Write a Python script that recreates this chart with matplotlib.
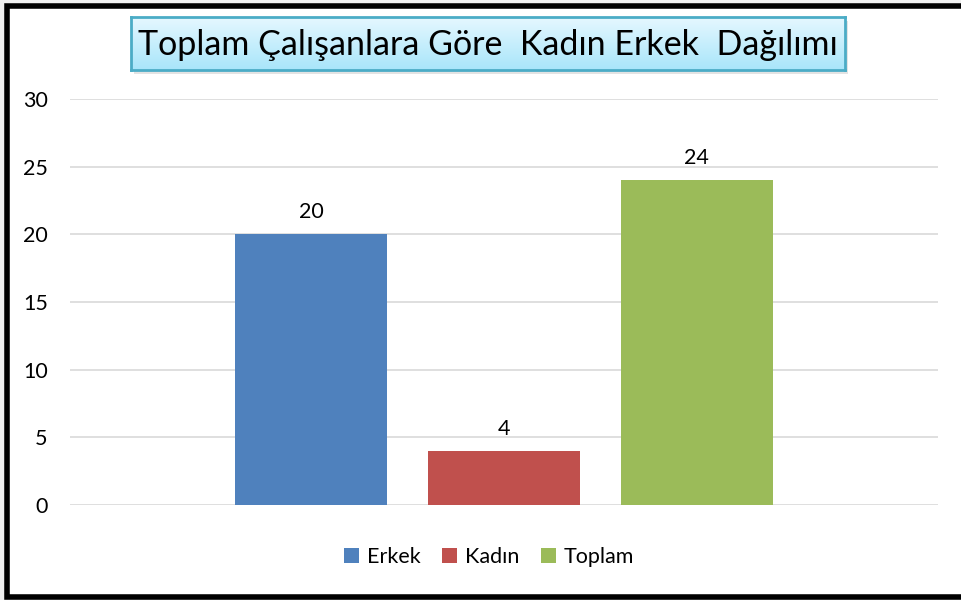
import numpy as np
from matplotlib import pyplot as plt
from matplotlib.patches import Rectangle

plt.rcParams['font.family'] = ['Lato', 'DejaVu Sans']

series = ['Erkek', 'Kadın', 'Toplam']
values = [20, 4, 24]
colors = ['#4f81bd', '#c0504d', '#9bbb59']
title = 'Toplam Çalışanlara Göre  Kadın Erkek  Dağılımı'
yticks = [0, 5, 10, 15, 20, 25, 30]

W, H = 962, 600
fig = plt.figure(figsize=(W / 100, H / 100), dpi=100)
fig.patch.set_facecolor('#f0f0f0')

# white chart area with thick black frame (right side cut off)
fig.add_artist(Rectangle((6.5 / W, 3 / H), 1.1, 591.5 / H, transform=fig.transFigure,
                         facecolor='white', edgecolor='black', linewidth=4, zorder=-2))

ax = fig.add_axes([70 / W, 1 - 505 / H, 868 / W, 406 / H])
x = np.arange(len(series))
for i in range(len(series)):
    ax.bar(x[i], values[i], width=0.79, color=colors[i], label=series[i], zorder=3)
    ax.text(x[i], values[i] + 0.9, str(values[i]), ha='center', va='bottom', fontsize=15.5)

ax.set_xlim(-1.25, 3.25)
ax.set_ylim(0, 30)
ax.set_yticks(yticks)
ax.set_xticks([])
ax.tick_params(axis='y', length=0, labelsize=15.5, pad=16)
ax.grid(axis='y', color='#d9d9d9', linewidth=1.2, zorder=0)
ax.set_facecolor('none')
for s in ax.spines.values():
    s.set_visible(False)

ax.legend(loc='center', bbox_to_anchor=(419 / 868, -52 / 406), ncol=3, frameon=False,
          fontsize=15.5, handlelength=0.7, handleheight=0.7, handletextpad=0.35,
          columnspacing=1.0)

# title box with gradient and shadow
bx0, by0, bw, bh = 131 / W, 1 - 70 / H, 714 / W, 53 / H
fig.add_artist(Rectangle((bx0 + 3 / W, by0 - 4 / H), bw, bh, transform=fig.transFigure,
                         facecolor='#c8c8c8', edgecolor='none', alpha=0.5, zorder=-1))
tax = fig.add_axes([bx0, by0, bw, bh])
grad = np.linspace(0, 1, 100).reshape(-1, 1)
top = np.array([0.90, 0.97, 1.0])
bot = np.array([0.66, 0.90, 0.98])
img = top + (bot - top) * grad[:, :, None]
tax.imshow(img, aspect='auto', extent=[0, 1, 0, 1])
tax.set_xticks([])
tax.set_yticks([])
for s in tax.spines.values():
    s.set_color('#4bacc6')
    s.set_linewidth(2)
tax.text(0.5, 0.47, title, ha='center', va='center', fontsize=24.5, transform=tax.transAxes)

fig.savefig('out.png', dpi=100, facecolor=fig.get_facecolor())
